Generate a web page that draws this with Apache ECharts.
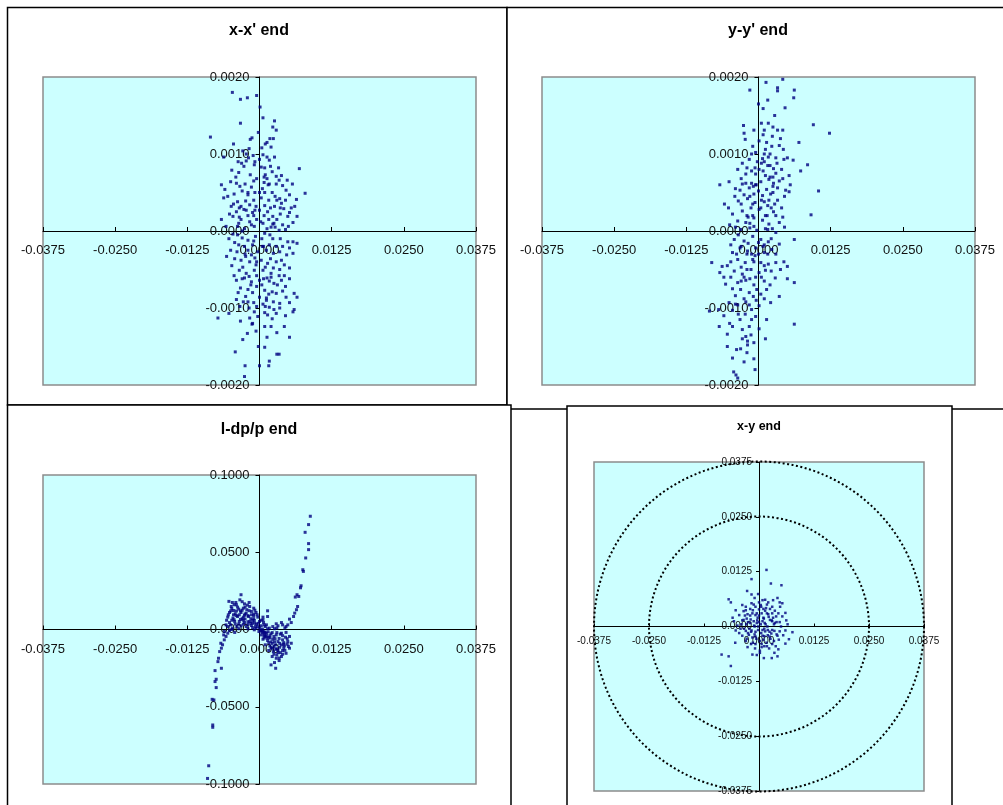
<!DOCTYPE html>
<html>
<head>
<meta charset="utf-8">
<script src="https://cdn.jsdelivr.net/npm/echarts@6/dist/echarts.min.js"></script>
<style>
html,body{margin:0;padding:0;background:#fff;}
#chart{width:1003px;height:805px;}
</style>
</head>
<body>
<div id="chart"></div>
<script>
// ---------- DATA ----------
const titles = ["x-x' end", "y-y' end", "l-dp/p end", "x-y end"];
const posTicks = { min: -0.0375, max: 0.0375, interval: 0.0125 };
const slopeTicks = { min: -0.002, max: 0.002, interval: 0.001 };
const dpTicks = { min: -0.1, max: 0.1, interval: 0.05 };
const circleRadii = [0.025, 0.0375];

const xxData = [
[-0.0047,0.0018],[-0.0033,0.00171],[-0.0021,0.00173],[-0.0005,0.00176],[0.0001,0.00161],[0.0006,0.00147],[0.0026,0.00143],[-0.0033,0.0014],[0.0023,0.00135],[0.0029,0.00131],[-0.0002,0.00128],[-0.0085,0.00122],[-0.0013,0.00121],[-0.0016,0.00119],[0.0013,0.00115],[0.001,0.00113],[-0.0045,0.00113],[0.002,0.00109],[-0.0018,0.00107],[-0.0029,0.00104],[-0.0062,0.00096],[-0.0023,0.001],[0.0006,0.00099],[0.0013,0.00096],[0.0026,0.00096],[0,0.00093],[0.0017,0.00092],[-0.0023,0.00091],[0.0033,0.00082],[-0.0009,0.00086],[0.0069,0.00081],[-0.0048,0.00079],[-0.0027,0.00084],[-0.0036,0.00076],[0.0009,0.00082],[0.0019,0.00084],[-0.0016,0.00073],[-0.0005,0.00068],[0.001,0.00073],[0.0029,0.00071],[-0.004,0.00062],[-0.0025,0.00061],[-0.0014,0.00057],[-0.0066,0.0006],[-0.006,0.00054],[0.0005,0.00055],[0.0017,0.00061],[0.0029,0.00061],[0.004,0.00059],[0.0057,0.00061],[0.0079,0.00049],[-0.0055,0.00045],[-0.0062,0.00043],[-0.0038,0.00038],[-0.0024,0.00039],[-0.001,0.0004],[0.0003,0.00043],[0.0016,0.0004],[0.0035,0.00042],[0.0052,0.00047],[0.0046,0.00053],[0.0064,0.00041],[-0.0049,0.00032],[-0.0032,0.00032],[-0.0017,0.00034],[-0.0006,0.00032],[0.0009,0.00033],[0.0026,0.00032],[0.0042,0.00029],[0.0061,0.00032],[-0.004,0.00025],[-0.0023,0.00027],[-0.0012,0.00024],[0,0.00027],[0.0014,0.00025],[0.0023,0.00019],[0.0016,0.00015],[0.003,0.00015],[0.0023,0.00009],[0.0049,0.00019],[0.0065,0.00019],[-0.0066,0.00015],[-0.0046,0.00019],[-0.0032,0.00015],[-0.0017,0.00012],[-0.0005,0.00015],[0.0006,0.0001],[0.004,0.00008],[0.0058,0.00011],[-0.0058,0.00006],[-0.0038,0.00006],[-0.0026,0.00003],[-0.0009,0.00006],[0.0013,0.00003],[0.0034,0.00001],[-0.0053,-0.0001],[-0.0038,-0.00005],[-0.002,-0.00012],[-0.0007,-0.00007],[0.0009,-0.00003],[0.0023,-0.0001],[0.0049,-0.00014],[0.0058,-0.00014],[0.0065,-0.00016],[-0.0057,-0.00033],[-0.0039,-0.00027],[-0.0026,-0.0002],[-0.0014,-0.00031],[-0.0003,-0.00027],[0.0012,-0.00025],[0.0024,-0.00029],[0.0035,-0.00027],[0.0047,-0.00031],[0.0058,-0.00029],[-0.0032,-0.00038],[-0.0017,-0.0004],[0.0003,-0.00038],[0.0014,-0.00042],[0.0029,-0.0004],[0.0043,-0.00044],[0.0052,-0.00048],[-0.0035,-0.00051],[-0.0023,-0.00055],[-0.0009,-0.00051],[0.0006,-0.00051],[0.002,-0.00055],[0.0034,-0.00058],[-0.004,-0.00064],[-0.0026,-0.00061],[-0.0014,-0.00066],[0,-0.00064],[0.0013,-0.00061],[0.0025,-0.00068],[0.0038,-0.00064],[-0.0033,-0.00074],[-0.002,-0.00076],[-0.0005,-0.00072],[0.0009,-0.00077],[0.0022,-0.00079],[0.0029,-0.00081],[0.006,-0.00081],[0.0046,-0.00086],[-0.0024,-0.00085],[0,-0.00086],[0.0012,-0.00087],[-0.004,-0.00089],[0.0065,-0.00086],[0.0035,-0.00094],[0.0052,-0.00093],[-0.0034,-0.00098],[-0.0018,-0.001],[-0.0005,-0.00098],[0.0017,-0.00099],[0.006,-0.00102],[-0.0053,-0.00107],[0.0009,-0.00106],[0.0029,-0.00107],[0.0058,-0.00105],[-0.0072,-0.00113],[-0.0017,-0.00113],[0.0035,-0.001],[-0.0003,-0.00111],[-0.0013,-0.00121],[0.0014,-0.00109],[0.0009,-0.00124],[0.002,-0.00124],[0.0043,-0.00124],[0.0013,-0.00138],[0.0052,-0.00138],[-0.0029,-0.00141],[0.0009,-0.00151],[-0.0042,-0.00157],[0.003,-0.0016],[0.0034,-0.0016],[0.0017,-0.00169],[-0.0025,-0.00175],[0,-0.00175],[0.0016,-0.00175],[-0.0026,-0.00189],
[-0.001,0.0002],[0.0005,-0.0002],[-0.002,0.0005],[0.0015,0.0006],[-0.0005,-0.0004],[0.002,-0.0006],[-0.003,0.0],[0.0008,0.0007],[-0.0015,-0.0007],[0.003,0.0004],[-0.0008,0.0009],[0.0012,-0.0009],[-0.0025,-0.0003],[0.0025,0.0001],[0.0,0.0005],[-0.0035,0.0003],[0.0035,-0.0005],[-0.0012,-0.0012],[0.0018,0.0012],[-0.0002,-0.0015],
[-0.0044,0.00048],[-0.003,0.00052],[-0.0008,0.0005],[0.0022,0.0005],[0.0038,0.00036],[-0.002,0.0002],[0.0008,0.0002],[0.0036,0.00022],[-0.0043,-0.00015],[-0.0012,-0.00018],[0.0017,-0.00018],[0.004,-0.0002],[-0.0048,-0.00045],[-0.0029,-0.00047],[-0.0006,-0.00044],[0.001,-0.00047],[0.0024,-0.00048],[-0.0044,-0.00058],[-0.0018,-0.00059],[0.0007,-0.00062],[0.0031,-0.0007],[0.0045,-0.00072],[-0.0028,-0.00092],[-0.001,-0.00093],[0.0006,-0.00095],[0.0024,-0.00092],[-0.0037,0.0009],[-0.0011,0.00098],[0.0004,0.00108],[0.0024,0.0012],[-0.005,0.00064],[0.0008,0.00063],[0.0048,0.00066],[0.0055,0.0003],[-0.0036,0.0001],[0.002,0.00005],[0.0045,0.00002],[-0.005,-0.00025],[0.0052,-0.00062],[-0.0021,-0.00133],
[-0.0031,0.00088],[-0.0019,0.00095],[0.0003,0.00083],[0.0022,0.00077],[0.0038,0.00072],[-0.0041,0.0007],[-0.001,0.00065],[0.0013,0.00068],[0.0034,0.00066],[-0.0034,0.00058],[-0.002,0.00047],[0.0009,0.0005],[0.0027,0.00045],[0.0045,0.0004],[-0.0045,0.00035],[-0.0027,0.00028],[-0.0008,0.00027],[0.0019,0.0003],[0.0036,0.0003],[0.0052,0.00024],[-0.0052,0.00022],[-0.0035,0.00018],[-0.0014,0.00008],[0.0002,0.00012],[0.0027,0.00005],[0.005,0.00006],[-0.0046,-0.00004],[-0.003,-0.00009],[-0.001,-0.00013],[0.0004,-0.0001],[0.0018,-0.00005],[0.0036,-0.0001],[-0.0036,-0.00018],[-0.002,-0.00025],[0.0007,-0.0002],[0.0029,-0.0002],[0.0052,-0.00022],[-0.0043,-0.00036],[-0.0024,-0.00033],[-0.0008,-0.00035],[0.0019,-0.00036],[0.0038,-0.00038],[-0.003,-0.00062],[-0.0005,-0.00058],[0.0017,-0.00065],[0.0043,-0.00058],[-0.0037,-0.0008],[-0.0012,-0.0008],[0.0004,-0.0007],[0.0016,-0.00082],[0.004,-0.00078],[-0.002,-0.00092],[0.001,-0.00098],[0.0025,-0.00102],[-0.0009,-0.00105],[0.0045,-0.0011],[-0.0033,-0.00117],[0.0022,-0.00114],[-0.0006,-0.0013],[0.003,-0.00132]
];

const yyData = [
[0.0042,0.00197],[0.0013,0.00193],[-0.0015,0.00183],[0.0033,0.00186],[0.0033,0.00182],[0.0062,0.00183],[0.0061,0.00173],[0.0016,0.0017],[0,0.00165],[0.0046,0.0016],[0.0008,0.00159],[0.0017,0.0014],[0.0095,0.00138],[-0.0026,0.00137],[0.0123,0.00127],[0.001,0.00131],[0.0033,0.00131],[0.0042,0.00131],[-0.0008,0.00131],[-0.0025,0.00127],[0.0024,0.00123],[-0.0023,0.00119],[0.0001,0.00117],[0.0014,0.00115],[0.007,0.00115],[0.0036,0.00111],[0.0023,0.0011],[0.0043,0.00106],[0.0012,0.00106],[-0.0005,0.00102],[-0.0016,0.00093],[0.0017,0.00096],[0.0007,0.00094],[0.003,0.00095],[0.0044,0.00093],[0.006,0.00092],[0.0085,0.00086],[-0.0006,0.00082],[-0.0036,0.0008],[0.0001,0.0008],[0.0016,0.00085],[0.0026,0.00081],[0.0073,0.00078],[-0.0022,0.00074],[-0.0005,0.00074],[0.0012,0.00072],[0.003,0.00075],[0.0053,0.00072],[-0.0051,0.00064],[-0.0067,0.0006],[-0.0028,0.00061],[-0.0012,0.00062],[0.0004,0.00064],[0.0018,0.00067],[0.0042,0.00068],[-0.0032,0.00053],[-0.0016,0.00056],[0,0.00052],[0.0014,0.00054],[0.0033,0.00056],[0.0047,0.00053],[0.0053,0.00051],[0.0104,0.00052],[-0.0059,0.00035],[-0.0035,0.00039],[-0.0019,0.00042],[-0.0006,0.00037],[0.0007,0.00046],[0.0021,0.00048],[0.0033,0.0004],[-0.0045,0.00022],[-0.0028,0.00026],[-0.0013,0.0003],[0.0001,0.00028],[0.0016,0.00033],[0.0026,0.00025],[0.0091,0.00021],[-0.0036,0.00013],[-0.0022,0.00011],[-0.0008,0.00017],[0.0007,0.00014],[0.0018,0.00009],[0.0036,0.00011],[-0.0031,0.00002],[-0.0015,0.00004],[-0.0003,0.00001],[0.0012,0.00003],[0.003,-0.00002],[0.0062,-0.00011],[-0.0042,-0.00011],[-0.0025,-0.00013],[-0.001,-0.00007],[0.0004,-0.00011],[0.0017,-0.00014],[0.0036,-0.00017],[-0.0032,-0.00022],[-0.0019,-0.00026],[-0.0005,-0.00022],[0.001,-0.00028],[0.0023,-0.00024],[-0.0081,-0.00041],[-0.0063,-0.00046],[-0.0067,-0.00054],[-0.0048,-0.0004],[-0.0036,-0.00037],[-0.0023,-0.00041],[-0.001,-0.00037],[0.0004,-0.00041],[0.0017,-0.00043],[0.003,-0.00041],[0.0044,-0.0004],[0.005,-0.00046],[-0.0042,-0.00052],[-0.0028,-0.00056],[-0.0013,-0.0005],[0.0001,-0.00054],[0.0012,-0.00051],[0.0029,-0.00061],[0.005,-0.00062],[-0.0057,-0.00069],[-0.0036,-0.00067],[-0.0022,-0.00064],[-0.0008,-0.0007],[0.001,-0.00065],[0.0062,-0.00067],[-0.0031,-0.00076],[-0.0016,-0.0008],[-0.0003,-0.00076],[0.0014,-0.00076],[-0.004,-0.00084],[-0.0025,-0.00088],[-0.0009,-0.00085],[0.0021,-0.00093],[0.0036,-0.00085],[-0.0051,-0.00093],[-0.0036,-0.00096],[-0.0016,-0.00096],[0.0001,-0.00097],[-0.0085,-0.00104],[-0.0069,-0.00102],[-0.0045,-0.00103],[-0.0023,-0.00108],[-0.0005,-0.00111],[-0.0032,-0.00115],[0.0014,-0.00115],[0.0062,-0.00121],[-0.0068,-0.00124],[-0.0045,-0.00124],[-0.0016,-0.00124],[0.0001,-0.00127],[-0.0054,-0.00134],[-0.0022,-0.00137],[-0.0013,-0.00135],[0.0012,-0.0014],[-0.0019,-0.00143],[-0.0019,-0.00148],[-0.0054,-0.0015],[-0.0031,-0.00153],[-0.0038,-0.00154],[-0.002,-0.00158],[-0.0008,-0.00166],[-0.0006,-0.0018],[-0.0043,-0.00183],[-0.0039,-0.00187],[-0.0036,-0.00191],
[-0.001,0.0002],[0.0005,0.0004],[-0.002,-0.0003],[0.0015,0.0002],[-0.0005,0.0006],[0.002,0.0007],[-0.0015,0.0001],[0.0008,-0.0002],[-0.0025,-0.0006],[0.0025,0.0005],[-0.0008,-0.0004],[0.001,0.0009],[-0.003,-0.0002],[0.0,-0.0003],[0.0022,0.0003],
[-0.002,0.00082],[0.0005,0.00088],[0.0025,0.0007],[-0.003,0.00068],[-0.0009,0.00058],[0.0025,0.00058],[-0.0041,0.00045],[-0.0025,0.00047],[0.001,0.00038],[0.004,0.0003],[-0.002,0.0002],[0.003,0.0002],[-0.005,0.00008],[0.0024,0.00003],[0.0045,0.00005],[-0.0035,-0.00005],[0.001,-0.00018],[0.003,-0.0003],[-0.0012,-0.0003],[-0.0045,-0.00028],[-0.003,-0.00047],[0.0022,-0.00052],[-0.0015,-0.00062],[0.0005,-0.0006],[-0.0045,-0.00075],[0.0004,-0.00082],[-0.0012,-0.00102],[-0.0028,-0.00128],[0.0008,0.00125],[0.0028,0.0015],[-0.001,0.0011],[0.005,0.00095],[0.002,0.001],[-0.0015,0.00045],[0.0,-0.00015],[-0.006,-0.0006],
[0.0025,0.00135],[0.0005,0.0014],[0.0038,0.0012],[-0.0012,0.001],[0.001,0.001],[0.0032,0.00088],[-0.0028,0.00088],[-0.0002,0.0009],[0.002,0.00085],[0.004,0.0008],[-0.0012,0.00078],[0.0008,0.00078],[0.0036,0.00065],[-0.0022,0.00062],[-0.0004,0.0006],[0.0026,0.00062],[0.0055,0.0006],[-0.004,0.00055],[-0.0008,0.00048],[0.0018,0.0004],[0.0045,0.00045],[-0.003,0.00035],[-0.001,0.00035],[0.0004,0.0003],[0.0028,0.00035],[-0.0052,0.0003],[-0.0018,0.00018],[0.0012,0.0002],[0.0042,0.00018],[-0.004,0.00005],[-0.0008,0.00006],[0.0016,0.00002],[-0.0048,-0.00018],[-0.0018,-0.00016],[0.0022,-0.0001],[-0.0038,-0.0003],[-0.0006,-0.00032],[0.0016,-0.0003],[-0.0054,-0.00045],[-0.002,-0.0005],[0.001,-0.00045],[0.0038,-0.0005],[-0.0048,-0.0006],[-0.003,-0.00065],[-0.0005,-0.0006],[0.002,-0.0007],[-0.004,-0.00095],[-0.0022,-0.00092],[-0.0004,-0.0009],[0.001,-0.00088],[-0.006,-0.0011],[-0.0035,-0.00108],[-0.0012,-0.00115],[-0.005,-0.0012],[-0.0028,-0.0014],[-0.0008,-0.00145],[-0.0045,-0.00165],[-0.0025,-0.0017]
];

const ldpData = [
[0.0088,0.0733],[0.0085,0.0679],[0.0079,0.0629],[0.0085,0.0556],[0.0085,0.0517],[0.008,0.0463],[0.0075,0.0387],[0.0076,0.0376],[0.0072,0.0283],[0.0071,0.027],[0.0065,0.0225],[0.0068,0.0214],[0.0062,0.021],[0.0066,0.0149],[0.0064,0.0128],[0.0061,0.0106],[0.0059,0.0084],[0.0052,0.0067],[0.0055,0.0045],[0.0049,0.003],
[-0.009,-0.0964],[-0.0088,-0.0882],[-0.0081,-0.0618],[-0.0081,-0.0633],[-0.0082,-0.0452],[-0.0079,-0.0456],[-0.0077,-0.0337],[-0.0075,-0.0322],[-0.0075,-0.0376],[-0.0077,-0.0266],[-0.0072,-0.0208],[-0.0071,-0.0186],[-0.0066,-0.0251],[-0.0069,-0.0143],[-0.0066,-0.0121],[-0.0064,-0.0099],[-0.0067,-0.0089],[-0.0061,-0.0067],[-0.0058,-0.0045],[-0.0062,-0.0035],[-0.0055,-0.0024],
[-0.0053,0.0182],[-0.0047,0.0175],[-0.0032,0.0225],[-0.0034,0.0192],[-0.004,0.016],[-0.0026,0.0166],[-0.0018,0.0175],[-0.0049,0.0149],[-0.0045,0.0123],[-0.0036,0.0132],[-0.0028,0.0138],[-0.0017,0.0149],[-0.001,0.0138],[-0.0052,0.011],[-0.0042,0.0102],[-0.0032,0.011],[-0.0023,0.0106],[-0.0014,0.0117],[-0.0006,0.011],[0.0014,0.0121],[0.0014,0.0084],[-0.0055,0.008],[-0.0046,0.0074],[-0.0038,0.0084],[-0.0028,0.008],[-0.0019,0.0084],[-0.001,0.0089],[-0.0003,0.008],[-0.0052,0.0045],[-0.0043,0.0052],[-0.0035,0.0052],[-0.0026,0.0045],[-0.0017,0.0052],[-0.0009,0.0058],[0,0.0052],[0.0006,0.0063],[-0.0055,0.0019],[-0.0047,0.0009],[-0.0039,0.0019],[-0.0032,0.0024],[-0.0023,0.0019],[-0.0014,0.0026],[-0.0007,0.0019],[0.0003,0.0024],[0.001,0.0019],[-0.0061,-0.0013],[-0.0052,-0.0006],[-0.0043,-0.0019],[-0.0009,-0.0002],[-0.0001,-0.0013],[0.0005,0.0002],[0.001,-0.0019],[0.0017,0.0009],[0.0023,0.0019],[0.0032,0.0024],[0.004,0.003],[0.0029,0.0037],[0.0038,0.0045],[0.0046,0.0019],
[0.0003,-0.0035],[0.0012,-0.0041],[0.002,-0.0028],[0.0029,-0.0035],[0.0038,-0.0024],[0.0046,-0.0019],[0.0052,-0.0045],[0.0006,-0.0063],[0.0014,-0.0071],[0.0023,-0.0063],[0.0032,-0.0078],[0.004,-0.0067],[0.0049,-0.0078],[0.0055,-0.0089],[0.001,-0.0099],[0.0018,-0.0106],[0.0028,-0.0099],[0.0035,-0.0115],[0.0043,-0.0106],[0.0052,-0.0121],[0.0016,-0.0136],[0.0024,-0.0143],[0.0032,-0.0149],[0.004,-0.0136],[0.0046,-0.0154],[0.0022,-0.0175],[0.0029,-0.0186],[0.0038,-0.0175],[0.0034,-0.0201],[0.0026,-0.0214],[0.0028,-0.0251],[0.002,-0.0229],
[-0.003,0.0125],[-0.0025,0.01],[-0.002,0.009],[-0.0015,0.007],[-0.0012,0.006],[-0.0008,0.004],[-0.0005,0.0035],[-0.0003,0.002],[0,0.001],[0.0002,-0.0005],[0.0005,-0.002],[0.0008,-0.003],[0.001,-0.0045],[0.0013,-0.0055],[0.0016,-0.005],[0.002,-0.008],[0.0022,-0.009],[0.0025,-0.011],[0.003,-0.0125],[-0.0035,0.0095],[-0.004,0.012],[-0.0045,0.0095],[-0.0033,0.0065],[-0.0028,0.006],[-0.002,0.005],[0.0008,-0.0015],[0.0012,-0.0025],[0.0018,-0.004],[0.0027,-0.006],[0.0035,-0.009],[0.0042,-0.0095],
[-0.0048,0.0135],[-0.0038,0.0145],[-0.0022,0.0128],[-0.0044,0.0063],[-0.003,0.007],[-0.0012,0.0042],[-0.0036,0.0035],[-0.002,0.0032],[-0.005,0.003],[-0.0006,0.0008],[0.0003,-0.001],[0.0008,-0.004],[0.0018,-0.0055],[0.0025,-0.0045],[0.0034,-0.0058],[0.0042,-0.0085],[0.0022,-0.0122],[0.0032,-0.0135],[0.004,-0.016],[0.003,-0.0165],[0.0045,-0.005],[0.0036,-0.003],[0.0026,0.0005],[0.0044,0.001],[0.0012,0.003],[-0.0025,0.0145],[-0.001,0.01],[0.0007,0.0045],[-0.0057,0.006],[-0.0041,0.0175],
[-0.0044,0.016],[-0.003,0.018],[-0.0021,0.0158],[-0.005,0.012],[-0.0033,0.012],[-0.0018,0.0122],[-0.0008,0.0125],[-0.0054,0.0095],[-0.004,0.009],[-0.0026,0.0092],[-0.0014,0.0095],[-0.0004,0.0095],[0.0006,0.008],[-0.0048,0.006],[-0.0025,0.0068],[-0.001,0.007],[0.0003,0.006],[-0.0058,0.003],[-0.0042,0.0035],[-0.0028,0.0035],[-0.0015,0.004],[-0.0002,0.004],[0.0008,0.003],[-0.0048,0.0],[-0.0036,0.0005],[-0.002,0.0005],[-0.0012,0.0012],[0.0014,0.0005],[0.003,0.001],[0.0006,-0.001],[0.0015,-0.0015],[0.0022,-0.002],[0.003,-0.002],[0.004,-0.004],[0.0048,-0.006],[0.0008,-0.0055],[0.0016,-0.0085],[0.0026,-0.008],[0.0038,-0.01],[0.0048,-0.0095],[0.002,-0.0118],[0.0028,-0.0128],[0.0036,-0.015],[0.0044,-0.0135],[0.0025,-0.016],[0.0034,-0.0185],[0.005,-0.011],[0.0042,-0.012]
];

const xyData = [
[0.0017,0.0129],[-0.0017,0.0108],[0.0027,0.0098],[0.0051,0.0094],[-0.0002,0.0074],[-0.0017,0.0073],[-0.0027,0.0081],[-0.0064,0.0055],[-0.0069,0.0062],[0.0014,0.0061],[0.0021,0.0055],[0.0042,0.0065],[0.0047,0.0055],[0.0053,0.0053],[-0.0038,0.0049],[-0.0017,0.0053],[-0.0008,0.0045],[0.0004,0.0049],[0.003,0.0045],[-0.0053,0.0037],[-0.003,0.0037],[-0.0014,0.0037],[0,0.0039],[0.0014,0.0036],[0.0036,0.0036],[0.006,0.0031],[-0.0045,0.0026],[-0.0026,0.0028],[-0.0008,0.0026],[0.0006,0.003],[0.0021,0.0028],[0.0039,0.0023],[0.0053,0.0023],[-0.0057,0.0012],[-0.0038,0.0014],[-0.0019,0.0016],[-0.0004,0.0014],[0.0011,0.0018],[0.0029,0.0014],[0.0047,0.001],[0.0062,0.0014],[-0.0049,0.0002],[-0.0029,0.0005],[-0.0011,0.0002],[0.0004,0.0005],[0.0019,0],[0.0034,0.0005],[-0.0053,-0.0009],[-0.0034,-0.0005],[-0.0017,-0.0009],[-0.0002,-0.0008],[0.0014,-0.0011],[0.003,-0.0008],[0.0047,-0.0011],[0.006,-0.0009],[0.0076,-0.0013],[-0.0038,-0.0021],[-0.0023,-0.0019],[-0.0008,-0.0023],[0.0008,-0.0021],[0.0024,-0.0023],[0.0042,-0.0021],[-0.0054,-0.0037],[-0.003,-0.0033],[-0.0014,-0.0037],[0.0002,-0.0033],[0.0017,-0.0037],[0.0034,-0.0033],[0.006,-0.0039],[0.0068,-0.0029],[-0.0026,-0.0047],[-0.0009,-0.005],[0.0006,-0.0047],[0.0023,-0.005],[0.0044,-0.0052],[0.0002,-0.006],[0.0011,-0.0072],[0.0029,-0.0072],[0.0042,-0.0068],[-0.0085,-0.0064],[-0.0069,-0.0068],[-0.0064,-0.009],[-0.0015,-0.0064],
[0,0.001],[0.001,0.002],[-0.001,0],[0.0005,-0.0015],[0.0015,0.0005],[-0.002,0.0025],[0.002,-0.002],[-0.0005,0.003],[0.0025,0.0015],[-0.003,-0.001],[0.001,-0.003],[-0.0015,-0.0025],[0.003,0.003],[-0.0025,0.001],[0.0005,0.0045],[0.0018,-0.0045],[-0.0008,-0.004],[0.0035,-0.001],[-0.004,0.0005],[0.004,0.001],[-0.0012,0.005],[0.0008,0.006],[-0.0035,0.0035],[0.0045,-0.003],[0.0002,-0.0055],
[-0.0005,0.0008],[0.0012,-0.0005],[-0.0018,-0.0012],[0.0022,0.0022],[-0.0028,0.0018],[0.0016,0.0042],[-0.001,-0.0018],[0.0028,-0.0016],
[-0.0003,0.002],[0.0013,0.0008],[-0.0022,-0.0005],[0.0026,-0.0028],[-0.0006,-0.0028],[0.0032,0.002],[-0.0032,0.0025],[0.0006,-0.004],[0.005,0.0],[-0.0045,-0.0015],[0.0018,0.005],[-0.002,0.004],[0.0038,-0.0045],[-0.0002,0.0],[0.0008,0.0012],[0.002,-0.0008],[-0.0012,0.0012],[0.0036,0.0008],[-0.0028,-0.0028],[0.0012,-0.0022],
[-0.0035,0.0015],[-0.002,0.0008],[0.0,0.0025],[0.0018,0.003],[0.003,0.0012],[0.0044,0.003],[-0.0042,-0.0005],[-0.0025,-0.0015],[-0.0008,-0.0012],[0.0008,-0.0008],[0.0024,-0.0012],[0.004,-0.0018],[0.0055,-0.002],[-0.0015,0.003],[0.001,0.004],[0.0025,0.004],[-0.003,0.0045],[0.0048,0.0045],[-0.0018,-0.004],[0.0012,-0.0045],[0.003,-0.004],[-0.006,0.002],[0.0065,0.0005],[-0.0005,-0.0065],[0.0035,-0.006],[0.0,0.0055],[-0.001,0.0065],[0.0032,0.006]
];

// ---------- CHART ----------
const FONT = '"Liberation Sans", Arial, sans-serif';
const fmt = v => (Math.abs(v) < 1e-12 ? 0 : v).toFixed(4);

const gridsPos = [
  { left: 43, top: 77, width: 433, height: 308 },
  { left: 542, top: 77, width: 433, height: 308 },
  { left: 43, top: 475, width: 433, height: 309 },
  { left: 594, top: 462, width: 330, height: 329 }
];
const yRanges = [slopeTicks, slopeTicks, dpTicks, posTicks];
const small = [false, false, false, true];

const grid = gridsPos.map(g => Object.assign({
  show: true, backgroundColor: '#CCFFFF', borderColor: '#8c8c8c', borderWidth: 1.5,
  containLabel: false, outerBoundsMode: 'none'
}, g));

// axes cross at the centre of each (symmetric) plot area
const xAxis = gridsPos.map((g, i) => ({
  gridIndex: i, type: 'value', position: 'bottom', offset: -g.height / 2,
  min: posTicks.min, max: posTicks.max, interval: posTicks.interval,
  axisLine: { onZero: false, lineStyle: { color: '#000', width: 1 } },
  axisTick: { inside: true, length: small[i] ? 3 : 4, lineStyle: { color: '#000', width: 1 } },
  axisLabel: { fontFamily: FONT, fontSize: small[i] ? 10 : 13, color: '#111', margin: small[i] ? 10 : 13,
               formatter: fmt, showMinLabel: true, showMaxLabel: true, hideOverlap: false },
  splitLine: { show: false }
}));

const yAxis = gridsPos.map((g, i) => ({
  gridIndex: i, type: 'value', position: 'left', offset: -g.width / 2,
  min: yRanges[i].min, max: yRanges[i].max, interval: yRanges[i].interval,
  axisLine: { onZero: false, lineStyle: { color: '#000', width: 1 } },
  axisTick: { inside: false, length: small[i] ? 3 : 4, lineStyle: { color: '#000', width: 1 } },
  axisLabel: { fontFamily: FONT, fontSize: small[i] ? 10 : 13, color: '#111', margin: small[i] ? 7 : 10,
               formatter: fmt, showMinLabel: true, showMaxLabel: true, hideOverlap: false },
  splitLine: { show: false }
}));

const datasets = [xxData, yyData, ldpData, xyData];
const series = datasets.map((d, i) => ({
  type: 'scatter', xAxisIndex: i, yAxisIndex: i, data: d,
  symbol: 'rect', symbolSize: small[i] ? 2.5 : 3,
  itemStyle: { color: '#000080' }, silent: true, z: 4
}));

series.push({
  type: 'custom', xAxisIndex: 3, yAxisIndex: 3, silent: true, z: 3,
  data: circleRadii.map(r => [0, 0, r]),
  encode: { x: 0, y: 1 },
  renderItem: function (params, api) {
    const c = api.coord([api.value(0), api.value(1)]);
    const e = api.coord([api.value(0) + api.value(2), api.value(1)]);
    const r = e[0] - c[0];
    return {
      type: 'circle',
      shape: { cx: c[0], cy: c[1], r: r },
      style: { fill: 'transparent', stroke: '#000', lineWidth: 2, lineDash: [2, 2.5] }
    };
  }
});

const frames = [
  { x: 7.5, y: 7.5, width: 499.5, height: 397.5 },
  { x: 507, y: 7.5, width: 510, height: 401.5 },
  { x: 7.5, y: 405, width: 503.5, height: 410 },
  { x: 567, y: 406, width: 385, height: 410 }
];
const titlePos = [
  { x: 259, y: 31, size: 16 },
  { x: 758, y: 31, size: 16 },
  { x: 259, y: 429.5, size: 16 },
  { x: 759, y: 427, size: 12.5 }
];

const graphic = frames.map((f, i) => ({
  type: 'rect', shape: f, z: -10 + i,
  style: { fill: '#fff', stroke: '#000', lineWidth: 1.5 }
})).concat(titlePos.map((t, i) => ({
  type: 'text', x: t.x, y: t.y, z: 20,
  style: { text: titles[i], font: 'bold ' + t.size + 'px ' + FONT, fill: '#000',
           align: 'center', verticalAlign: 'middle' }
})));

const chart = echarts.init(document.getElementById('chart'), null, { renderer: 'canvas' });
chart.setOption({
  animation: false,
  backgroundColor: '#fff',
  graphic: graphic,
  grid: grid,
  xAxis: xAxis,
  yAxis: yAxis,
  series: series
});
</script>
</body>
</html>
